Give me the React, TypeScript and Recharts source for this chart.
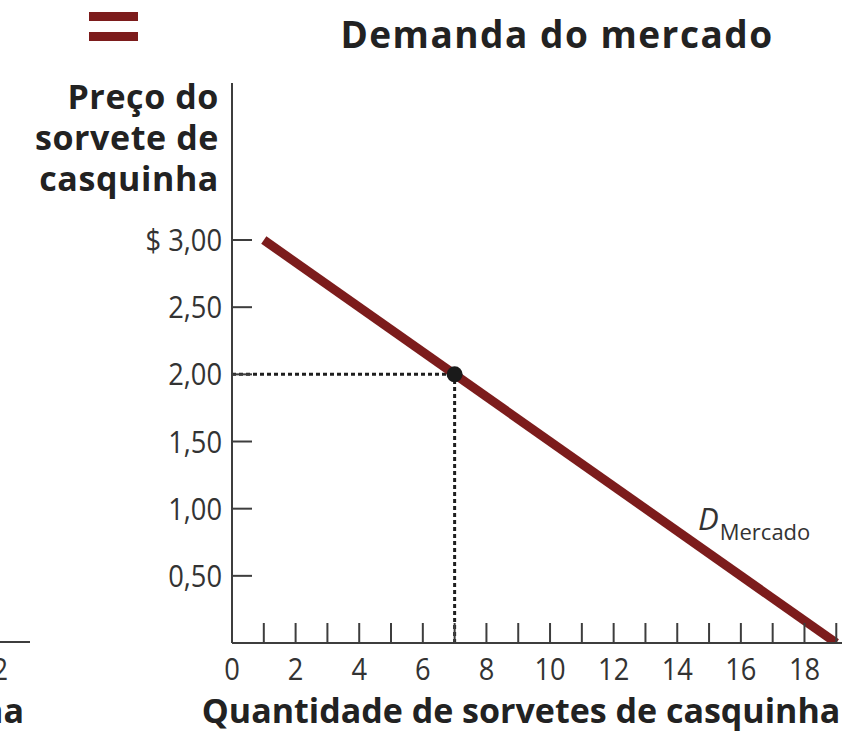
import { ComposedChart, Line, XAxis, YAxis, ReferenceLine, ReferenceDot } from "recharts";

// demand line endpoints (quantity, price)
const quantities = [1, 19];
const prices = [3.0, 0.0];

// highlighted point on the curve
const pointQty = 7;
const pointPrice = 2.0;

const xTicks = [0, 1, 2, 3, 4, 5, 6, 7, 8, 9, 10, 11, 12, 13, 14, 15, 16, 17, 18, 19];
const xLabels = [0, 2, 4, 6, 8, 10, 12, 14, 16, 18];
const yTicks = [0.5, 1.0, 1.5, 2.0, 2.5, 3.0];
const yLabels = ["0,50", "1,00", "1,50", "2,00", "2,50", "$ 3,00"];

const data = quantities.map((q, i) => ({ q, p: prices[i] }));

const RED = "#7c1c1c";
const AXIS = "#3d3d3d";
const FONT = "'Open Sans', sans-serif";

// tick labels in the original are a narrow sans, so squeeze Open Sans a little
const TickText = ({ x, y, anchor, children }: any) => (
  <g transform={`translate(${x},${y}) scale(0.88,1)`}>
    <text x={0} y={0} textAnchor={anchor} fontFamily={FONT} fontSize={31} fill="#333">
      {children}
    </text>
  </g>
);

const XTick = ({ x, y, payload }: any) => {
  const v = payload.value;
  return (
    <g>
      {v > 0 && <line x1={x} x2={x} y1={y} y2={y - 20} stroke={AXIS} strokeWidth={2} />}
      {xLabels.includes(v) && <TickText x={x} y={y + 37} anchor="middle">{v}</TickText>}
    </g>
  );
};

const YTick = ({ x, y, payload }: any) => {
  const i = yTicks.indexOf(payload.value);
  return (
    <g>
      <line x1={x} x2={x + 20} y1={y} y2={y} stroke={AXIS} strokeWidth={2} />
      <TickText x={x - 10} y={y + 11} anchor="end">{yLabels[i]}</TickText>
    </g>
  );
};

export default function App() {
  return (
    <div style={{ position: "absolute", left: 0, top: 0, width: 856, height: 741, background: "#fff" }}>
      <ComposedChart
        width={856}
        height={741}
        data={data}
        margin={{ top: 83, right: 14, bottom: 68, left: 172 }}
      >
        <XAxis
          type="number"
          dataKey="q"
          domain={[0, 19.18]}
          allowDataOverflow
          ticks={xTicks}
          interval={0}
          height={30}
          tickSize={0}
          tickMargin={0}
          tickLine={false}
          axisLine={{ stroke: AXIS, strokeWidth: 2 }}
          tick={<XTick />}
        />
        <YAxis
          type="number"
          domain={[0, 4.169]}
          allowDataOverflow
          ticks={yTicks}
          interval={0}
          width={60}
          tickSize={0}
          tickMargin={0}
          tickLine={false}
          axisLine={{ stroke: AXIS, strokeWidth: 2 }}
          tick={<YTick />}
        />
        <ReferenceLine
          segment={[{ x: 0, y: pointPrice }, { x: pointQty, y: pointPrice }]}
          stroke="#1e1e1e"
          strokeWidth={3}
          strokeDasharray="4 3"
        />
        <ReferenceLine
          segment={[{ x: pointQty, y: 0 }, { x: pointQty, y: pointPrice }]}
          stroke="#1e1e1e"
          strokeWidth={3}
          strokeDasharray="4 3"
        />
        <Line
          type="linear"
          dataKey="p"
          stroke={RED}
          strokeWidth={9}
          dot={false}
          activeDot={false}
          isAnimationActive={false}
        />
        <ReferenceDot x={pointQty} y={pointPrice} r={8} fill="#1a1a1a" stroke="none" />
      </ComposedChart>

      <svg
        width={856}
        height={741}
        style={{ position: "absolute", left: 0, top: 0, pointerEvents: "none" }}
      >
        <rect x={89} y={12} width={49} height={9} fill={RED} />
        <rect x={89} y={32} width={49} height={9} fill={RED} />
        <text x={557} y={48} textAnchor="middle" fontFamily={FONT} fontWeight={700} fontSize={37} letterSpacing={1.5} fill="#222">
          Demanda do mercado
        </text>
        <g fontFamily={FONT} fontWeight={700} fontSize={34} letterSpacing={0.6} fill="#222" textAnchor="end">
          <text x={219} y={109}>Preço do</text>
          <text x={219} y={150}>sorvete de</text>
          <text x={219} y={191}>casquinha</text>
        </g>
        <text x={521} y={723} textAnchor="middle" fontFamily={FONT} fontWeight={700} fontSize={34} fill="#222">
          Quantidade de sorvetes de casquinha
        </text>
        <text x={698} y={530} fontFamily={FONT} fontStyle="italic" fontSize={31} fill="#333">
          D
          <tspan fontStyle="normal" fontSize={22} dy={10} dx={1}>Mercado</tspan>
        </text>
        {/* edge of the neighbouring panel */}
        <line x1={0} x2={30} y1={642} y2={642} stroke={AXIS} strokeWidth={2} />
        <TickText x={8} y={680} anchor="end">12</TickText>
        <text x={24} y={723} textAnchor="end" fontFamily={FONT} fontWeight={700} fontSize={34} fill="#222">casquinha</text>
      </svg>
    </div>
  );
}
